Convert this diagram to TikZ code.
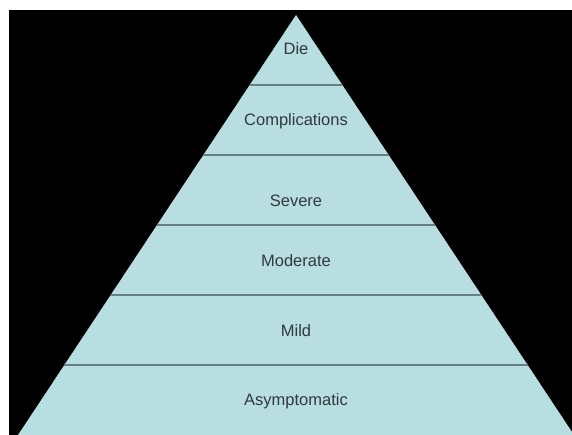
\documentclass[tikz,border=0pt]{standalone}
\usepackage{fontspec}
\setmainfont{Liberation Sans}
\definecolor{layerfill}{RGB}{184,222,226}
\definecolor{layerline}{RGB}{98,128,133}
\definecolor{layertext}{RGB}{48,58,63}
\begin{document}
\begin{tikzpicture}[
                x=1pt, y=-1pt,
                font=\fontsize{16.5}{18}\selectfont,
                layer/.style={text=layertext, inner sep=0pt},
                divider/.style={draw=layerline, line width=1.6pt}
            ]
                \useasboundingbox (0,0) rectangle (572,435);
                \fill[white] (0,0) rectangle (572,435);
                \fill[black] (9,10) rectangle (572,435);
                \clip (9,10) rectangle (572,435);
                \fill[layerfill] (296,15) -- (574,435) -- (18,435) -- cycle;
                \foreach \y in {85,155,225,295,365} {
                    \pgfmathsetmacro{\hw}{(\y-15)*0.6619}
                    \draw[divider] (296-\hw,\y) -- (296+\hw,\y);
                }
                \node[layer] (die) at (296, 49) {Die};
                \node[layer] (complications) at (296, 121) {Complications};
                \node[layer] (severe) at (296, 201) {Severe};
                \node[layer] (moderate) at (296, 261) {Moderate};
                \node[layer] (mild) at (296, 331) {Mild};
                \node[layer] (asymptomatic) at (296, 401) {Asymptomatic};
            \end{tikzpicture}
\end{document}
